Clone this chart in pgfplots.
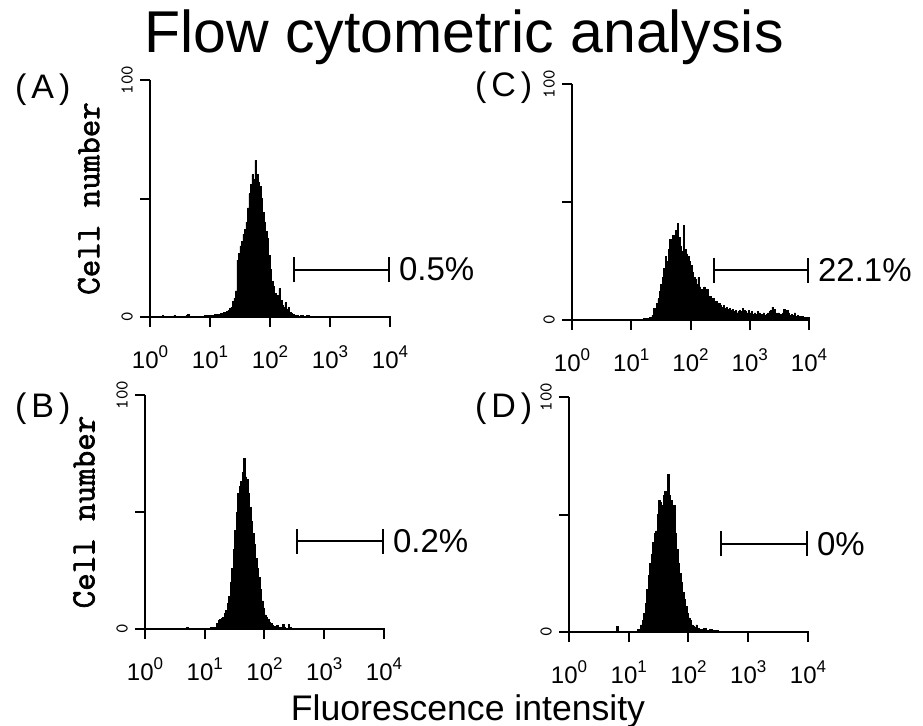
\documentclass[border=0pt]{standalone}
\usepackage{fontspec}
\setmainfont{Liberation Sans}
\newfontfamily\boldtt[FakeBold=2]{Latin Modern Mono}
\usepackage{pgfplots}
\pgfplotsset{compat=1.18}
\usetikzlibrary{arrows.meta}

% histogram data: x = log10(fluorescence intensity), y = cell number (% of scale)
\pgfplotstableread{
x y
0.000 0
0.200 0.5
0.225 0
0.400 0.8
0.425 0.4
0.450 0
0.600 0.6
0.625 1.2
0.650 0.3
0.675 0
0.900 0.5
0.925 0.8
0.950 0.4
0.975 0.6
1.000 0.3
1.025 0.8
1.050 0.5
1.075 1.0
1.100 0.6
1.125 1.2
1.150 0.8
1.175 1.5
1.200 1.0
1.225 1.8
1.250 1.3
1.275 2.2
1.300 2.8
1.325 3.5
1.350 4.2
1.375 6.5
1.400 8.0
1.425 11
1.450 24
1.475 27
1.500 30
1.525 32
1.550 35
1.575 37
1.600 40
1.625 46
1.650 52
1.675 56
1.700 60
1.725 58
1.750 66
1.775 60
1.800 57
1.825 55
1.850 50
1.875 44
1.900 40
1.925 36
1.950 33
1.975 26
2.000 20
2.025 15
2.050 13
2.075 10
2.100 8
2.125 9
2.150 12
2.175 7
2.200 5
2.225 4
2.250 6
2.275 3
2.300 4
2.325 2
2.350 1.5
2.375 1
2.400 0.7
2.425 0.5
2.450 0.8
2.475 0.4
2.500 0.5
2.550 0.3
2.600 0.5
2.650 0.3
2.700 0.2
4.000 0
}\dataA

\pgfplotstableread{
x y
0.000 0
0.800 0.3
1.000 0.4
1.200 0.6
1.300 1.0
1.350 2.0
1.375 5
1.400 3
1.425 7
1.450 9
1.475 12
1.500 15
1.525 18
1.550 22
1.575 27
1.600 25
1.625 30
1.650 34
1.675 32
1.700 36
1.725 30
1.750 38
1.775 41
1.800 35
1.825 31
1.850 29
1.875 40
1.900 30
1.925 28
1.950 27
1.975 25
2.000 23
2.025 20
2.050 18
2.075 17
2.100 15
2.125 18
2.150 14
2.175 13
2.200 12
2.225 14
2.250 11
2.275 13
2.300 9
2.325 10
2.350 8
2.375 9
2.400 7
2.425 8
2.450 6
2.475 7
2.500 6
2.525 5.5
2.550 6
2.575 5
2.600 5.5
2.625 4.5
2.650 5
2.675 4
2.700 4.5
2.725 3.5
2.750 4
2.775 3
2.800 3.5
2.825 4
2.850 3.5
2.875 5
2.900 4
2.925 3.5
2.950 3
2.975 4
3.000 3
3.025 3.5
3.050 2.5
3.075 3
3.100 2.5
3.125 3.5
3.150 3
3.175 2
3.200 2.5
3.225 3
3.250 2
3.275 2.5
3.300 3
3.325 3.5
3.350 4
3.375 5.5
3.400 4.5
3.425 3
3.450 2.5
3.475 3
3.500 2
3.525 2.5
3.550 3
3.575 4.5
3.600 3.5
3.625 4
3.650 3
3.675 2
3.700 2.5
3.725 2
3.750 3
3.775 1.5
3.800 2
3.825 1.5
3.850 1
3.875 1.5
3.900 1
3.925 1.2
3.950 0.8
3.975 1
4.000 0
}\dataC

\pgfplotstableread{
x y
0.000 0
0.300 0.4
0.325 0
0.700 0.5
0.725 0.2
1.000 0.4
1.100 0.6
1.150 0.8
1.200 2.5
1.225 3.5
1.250 4
1.275 4.5
1.300 5
1.325 6.5
1.350 8
1.375 11
1.400 14
1.425 20
1.450 26
1.475 34
1.500 42
1.525 50
1.550 58
1.575 61
1.600 63
1.625 67
1.650 73
1.675 65
1.700 64
1.725 58
1.750 52
1.775 46
1.800 41
1.825 36
1.850 30
1.875 26
1.900 22
1.925 17
1.950 12
1.975 9
2.000 6
2.025 5
2.050 4
2.075 3
2.100 2.2
2.125 1.5
2.150 1.0
2.175 0.8
2.200 1.5
2.225 0.6
2.250 0.5
2.300 2
2.325 0.5
2.350 0.4
2.400 1.8
2.425 0.5
2.450 0.3
2.600 0.2
4.000 0
}\dataB

\pgfplotstableread{
x y
0.000 0
0.500 0.3
0.525 0
0.800 2.5
0.825 0.3
1.000 0.3
1.150 1.0
1.200 3
1.225 5
1.250 8
1.275 12
1.300 18
1.325 24
1.350 29
1.375 33
1.400 38
1.425 42
1.450 43
1.475 50
1.500 56
1.525 55
1.550 54
1.575 58
1.600 60
1.625 57
1.650 67
1.675 58
1.700 56
1.725 52
1.750 54
1.775 42
1.800 35
1.825 29
1.850 25
1.875 21
1.900 17
1.925 14
1.950 11
1.975 8
2.000 6
2.025 5
2.050 3
2.075 2.5
2.100 2
2.125 3
2.150 1.5
2.175 1.2
2.200 1
2.250 1.5
2.300 0.8
2.350 1
2.400 0.6
2.450 0.5
2.500 0.4
2.600 0.3
2.700 0.2
4.000 0
}\dataD

\newcommand{\dec}[1]{10\raisebox{0.42em}{\fontsize{8.5}{8.5}\selectfont #1}}

\pgfplotsset{
  facs/.style={
    scale only axis, anchor=south west, clip=false,
    xmin=0, xmax=4, ymin=0, ymax=100,
    axis x line*=bottom, axis y line*=left,
    axis line style={-, line width=1pt},
    every tick/.style={black, line width=1pt},
    tick align=outside, major tick length=5pt,
    xtick={0,1,2,3,4},
    xticklabels={\dec{0},\dec{1},\dec{2},\dec{3},\dec{4}},
    xticklabel style={font=\fontsize{12}{12}\selectfont, anchor=base, yshift=-20.5pt},
    ytick={0,50,100}, yticklabels={0,,100},
    yticklabel style={rotate=90, anchor=south, font=\ttfamily\fontsize{9}{9}\selectfont},
    ylabel style={at={(axis description cs:-0.255,0.5)}, anchor=center,
      font=\boldtt\fontsize{17}{17}\selectfont},
  },
}
\tikzset{
  cellhist/.style={const plot mark left, fill=black, draw=black, line width=0.4pt},
  gate/.style={black, line width=1pt, {Bar[width=12.5pt]}-{Bar[width=12.5pt]}},
  pct/.style={anchor=west, xshift=1pt, font=\fontsize{16.5}{16.5}\selectfont},
}

\begin{document}
\begin{tikzpicture}
\useasboundingbox (0,0) rectangle (461.5pt,362.5pt);

\node[anchor=base, font=\fontsize{29.5}{29.5}\selectfont] at (232pt,336pt) {Flow cytometric analysis};
\node[anchor=base, font=\fontsize{17.8}{17.8}\selectfont] at (234pt,2.5pt) {Fluorescence intensity};

\node[anchor=base west, font=\fontsize{17}{17}\selectfont] at (4pt,313pt) {(\hspace{2.5pt}A\hspace{2.5pt})};
\node[anchor=base west, font=\fontsize{17}{17}\selectfont] at (234pt,314pt) {(\hspace{2.5pt}C\hspace{2.5pt})};
\node[anchor=base west, font=\fontsize{17}{17}\selectfont] at (4pt,153.5pt) {(\hspace{2.5pt}B\hspace{2.5pt})};
\node[anchor=base west, font=\fontsize{17}{17}\selectfont] at (234pt,153.5pt) {(\hspace{2.5pt}D\hspace{2.5pt})};

% (A)
\begin{axis}[facs, at={(75pt,204pt)}, width=120pt, height=118.5pt, ylabel={Cell number}]
\addplot[cellhist] table {\dataA} \closedcycle;
\addplot[gate] coordinates {(2.38,20) (4,20)};
\node[pct] at (axis cs:4,20) {0.5\%};
\end{axis}

% (C)
\begin{axis}[facs, at={(286pt,202.5pt)}, width=118.5pt, height=118pt]
\addplot[cellhist] table {\dataC} \closedcycle;
\addplot[gate] coordinates {(2.38,21) (4,21)};
\node[pct] at (axis cs:4,21) {22.1\%};
\end{axis}

% (B)
\begin{axis}[facs, at={(72.5pt,48pt)}, width=119.5pt, height=117pt, ylabel={Cell number}]
\addplot[cellhist] table {\dataB} \closedcycle;
\addplot[gate] coordinates {(2.53,37.5) (4,37.5)};
\node[pct] at (axis cs:4,37.5) {0.2\%};
\end{axis}

% (D)
\begin{axis}[facs, at={(284.5pt,46.5pt)}, width=119.5pt, height=117.5pt]
\addplot[cellhist] table {\dataD} \closedcycle;
\addplot[gate] coordinates {(2.53,37.5) (4,37.5)};
\node[pct] at (axis cs:4,37.5) {0\%};
\end{axis}
\end{tikzpicture}
\end{document}
